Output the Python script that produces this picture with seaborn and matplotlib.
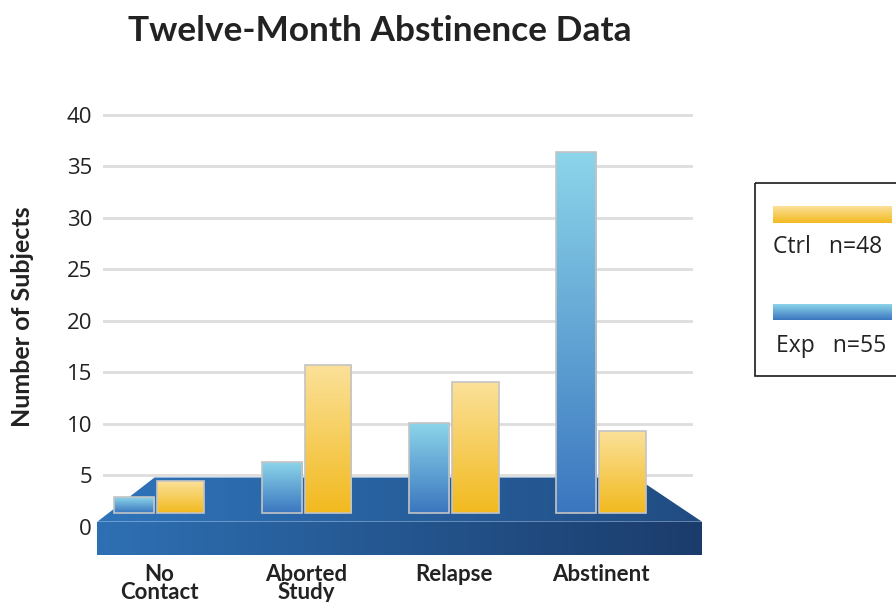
import numpy as np
import pandas as pd
import matplotlib.pyplot as plt
from matplotlib.patches import Polygon, Rectangle
from matplotlib.colors import LinearSegmentedColormap, same_color
import seaborn as sns

# data
categories = ['No\nContact', 'Aborted\nStudy', 'Relapse', 'Abstinent']
groups = ['Exp', 'Ctrl']
exp_values = [2.9, 6.3, 10.1, 36.4]
ctrl_values = [4.5, 15.7, 14.1, 9.3]
base_value = 1.4          # bars stand on the top of the blue platform
yticks = list(range(0, 45, 5))
legend_labels = ['Ctrl   n=48', 'Exp   n=55']

df = pd.DataFrame({
    'category': categories * 2,
    'group': ['Exp'] * len(categories) + ['Ctrl'] * len(categories),
    'value': exp_values + ctrl_values,
})

exp_colors = ('#3a76bf', '#8cd5ea')    # bottom, top
ctrl_colors = ('#f2ba1f', '#fbe199')

sns.set_theme(style='white')
plt.rcParams['font.family'] = ['Open Sans', 'DejaVu Sans']
BOLD = ['Lato', 'DejaVu Sans']

W, H = 896, 602
fig = plt.figure(figsize=(W / 100, H / 100), dpi=100)


def fig_rect(x0, y0, x1, y1):
    # pixel box (y down) -> figure fraction
    return [x0 / W, 1 - y1 / H, (x1 - x0) / W, (y1 - y0) / H]


ax = fig.add_axes(fig_rect(103, 109.85, 693, 555))
XLIM = (-0.3815, 3.6239)
YLIM = (-2.72, 40.5)

sns.barplot(data=df, x='category', y='value', hue='group', order=categories,
            hue_order=groups, palette={'Exp': exp_colors[0], 'Ctrl': ctrl_colors[0]},
            width=0.62, gap=0, saturation=1, legend=False, ax=ax)
ax.set_xlim(*XLIM)
ax.set_ylim(*YLIM)


def px2data(x, y):
    return ax.transData.inverted().transform((x, H - y))


def gradient(target_ax, clip, extent, c0, c1, horizontal, zorder):
    cmap = LinearSegmentedColormap.from_list('g', [c0, c1])
    arr = np.linspace(0, 1, 256)
    arr = arr[None, :] if horizontal else arr[:, None]
    im = target_ax.imshow(arr, cmap=cmap, extent=extent, origin='lower',
                          aspect='auto', interpolation='bilinear', zorder=zorder)
    im.set_clip_path(clip)
    im.set_clip_box(fig.bbox)
    return im


# platform under the bars
top_face = [(97.3, 521.7), (154.5, 477.5), (636, 477.5), (702, 521.7)]
front_face = [(97.3, 521.7), (702, 521.7), (702, 555), (97.3, 555)]
for face, c0, c1 in [(top_face, '#2f74ba', '#214c82'),
                     (front_face, '#2e70b4', '#1b3c6b')]:
    pts = np.array([px2data(x, y) for x, y in face])
    poly = Polygon(pts, closed=True, transform=ax.transData)
    ext = [pts[:, 0].min(), pts[:, 0].max(), pts[:, 1].min(), pts[:, 1].max()]
    gradient(ax, poly, ext, c0, c1, True, 0.8)

# restyle bars: stand on the platform, gradient fill
for p in list(ax.patches):
    top = p.get_y() + p.get_height()
    x0 = p.get_x()
    is_exp = same_color(p.get_facecolor(), exp_colors[0])
    if is_exp:
        p.set_x(x0 + 0.005)
        p.set_width(0.272)
        cols = exp_colors
    else:
        p.set_x(x0 - 0.0135)
        p.set_width(0.319)
        cols = ctrl_colors
    p.set_y(base_value)
    p.set_height(top - base_value)
    p.set_facecolor('none')
    p.set_edgecolor('#c4c4c4')
    p.set_linewidth(1.2)
    p.set_zorder(2.1)
    gradient(ax, p, [p.get_x(), p.get_x() + p.get_width(), base_value, top],
             cols[0], cols[1], False, 2)

ax.set_xlim(*XLIM)
ax.set_ylim(*YLIM)
ax.set_yticks(yticks)
ax.yaxis.grid(True, color='#dddddd', lw=2)
ax.xaxis.grid(False)
ax.set_axisbelow(True)
ax.set_facecolor('none')
for s in ax.spines.values():
    s.set_visible(False)
ax.set_xlabel('')
ax.set_ylabel('')
ax.tick_params(axis='y', length=0, pad=7.9, labelsize=16, labelcolor='#222222')
ax.tick_params(axis='x', length=0, pad=6.5, labelsize=16, labelcolor='#222222')
for lbl in ax.get_xticklabels():
    lbl.set_fontweight('bold')
    lbl.set_family(BOLD)
    lbl.set_linespacing(0.85)

fig.text(380 / W, 1 - 40.7 / H, 'Twelve-Month Abstinence Data', ha='center',
         va='baseline', fontsize=25.4, fontweight='bold', color='#222222', family=BOLD)
fig.text(22 / W, 1 - 317 / H, 'Number of Subjects', rotation=90, ha='center',
         va='center', fontsize=18, fontweight='bold', color='#222222', family=BOLD)

# legend box (runs off the right edge)
ov = fig.add_axes([0, 0, 1, 1], zorder=3)
ov.set_facecolor('none')
ov.axis('off')
ov.add_patch(Rectangle((755, 183.3), 170, 192.4, fill=False,
                       edgecolor='#1a1a1a', lw=1.2, clip_on=False))
for (y0, y1), cols, label, (tx, ty) in [((206, 222.7), ctrl_colors, legend_labels[0], (773, 253)),
                                        ((304, 320), exp_colors, legend_labels[1], (776, 351.7))]:
    r = Rectangle((772.7, y0), 118.3, y1 - y0, transform=ov.transData)
    gradient(ov, r, [772.7, 891, y1, y0], cols[0], cols[1], False, 2)
    ov.text(tx, ty, label, va='baseline', ha='left', fontsize=16.5, color='#222222')
ov.set_xlim(0, W)
ov.set_ylim(H, 0)

fig.savefig('out.png', dpi=100)
